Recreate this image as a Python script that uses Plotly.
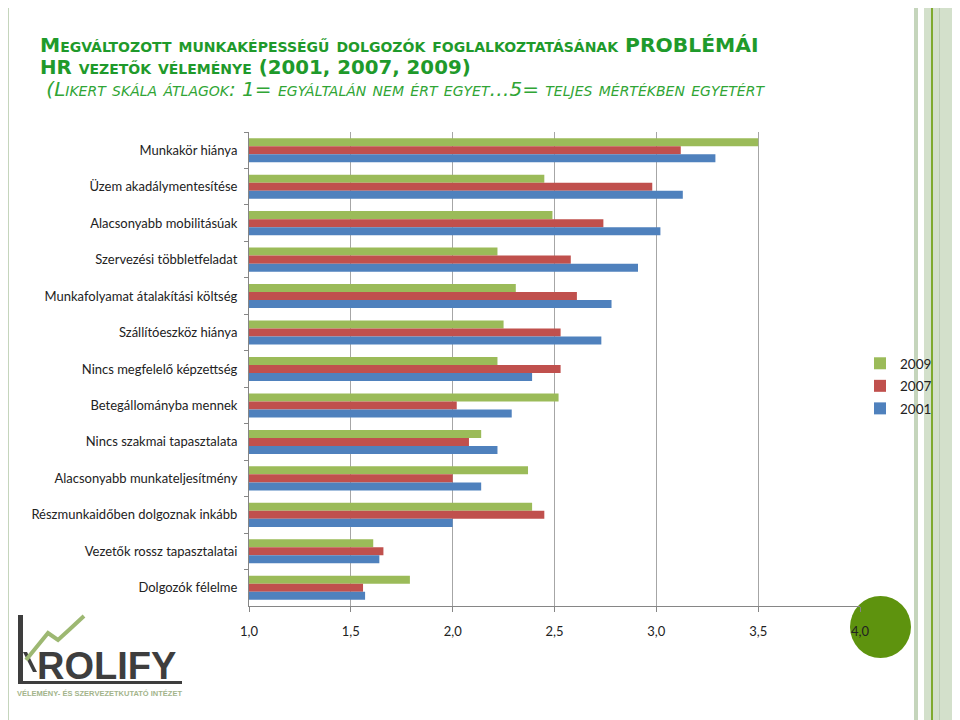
import plotly.graph_objects as go

categories = [
    "Munkakör hiánya",
    "Üzem akadálymentesítése",
    "Alacsonyabb mobilitásúak",
    "Szervezési többletfeladat",
    "Munkafolyamat átalakítási költség",
    "Szállítóeszköz hiánya",
    "Nincs megfelelő képzettség",
    "Betegállományba mennek",
    "Nincs szakmai tapasztalata",
    "Alacsonyabb munkateljesítmény",
    "Részmunkaidőben dolgoznak inkább",
    "Vezetők rossz tapasztalatai",
    "Dolgozók félelme",
]
values_2009 = [3.50, 2.45, 2.49, 2.22, 2.31, 2.25, 2.22, 2.52, 2.14, 2.37, 2.39, 1.61, 1.79]
values_2007 = [3.12, 2.98, 2.74, 2.58, 2.61, 2.53, 2.53, 2.02, 2.08, 2.00, 2.45, 1.66, 1.56]
values_2001 = [3.29, 3.13, 3.02, 2.91, 2.78, 2.73, 2.39, 2.29, 2.22, 2.14, 2.00, 1.64, 1.57]
x_ticks = [1.0, 1.5, 2.0, 2.5, 3.0, 3.5, 4.0]

SERIES = [
    ("2009", values_2009, "#9BBB59"),
    ("2007", values_2007, "#C0504D"),
    ("2001", values_2001, "#4F81BD"),
]

# the page body adds an 8px margin, so the figure is 8px smaller and every
# page-pixel position below is shifted by OFF
OFF = 8
W, H = 960 - OFF, 720 - OFF
L, R, T, B = 249 - OFF, 100, 132 - OFF, 114
PW, PH = W - L - R, H - T - B


def px(x):
    return (x - OFF - L) / PW


def py(y):
    return (H - B - (y - OFF)) / PH


GREEN = "#1F9A2B"
STRIPE = "#C5D5BC"

fig = go.Figure()
for name, vals, color in SERIES:
    fig.add_trace(
        go.Bar(
            y=categories, x=vals, name=name, orientation="h", legendgroup=name,
            marker_color=color, marker_line_width=0, base=0,
        )
    )

fig.update_layout(
    width=W, height=H,
    margin=dict(l=L, r=R, t=T, b=B, autoexpand=False),
    paper_bgcolor="white", plot_bgcolor="white",
    barmode="group", bargap=0.34, bargroupgap=0,
    separators=",.",
    font=dict(family="Lato, Open Sans, sans-serif", size=13, color="#222222"),
    showlegend=True,
    legend=dict(
        xref="container", yref="container", x=(860 - OFF) / W, y=1 - (348 - OFF) / H,
        xanchor="left", yanchor="top", font=dict(size=13.5, color="#222222"),
        itemwidth=30, traceorder="grouped", tracegroupgap=2,
        bgcolor="rgba(0,0,0,0)",
    ),
)
fig.update_xaxes(
    range=[1, 4], tickvals=x_ticks, tickformat=".1f",
    showgrid=True, gridcolor="#A6A6A6", gridwidth=1,
    showline=True, linecolor="#868686", linewidth=1,
    ticks="outside", ticklen=5, tickcolor="#868686",
    tickfont=dict(size=13, color="#222222"), ticklabelstandoff=8,
    zeroline=False, fixedrange=True,
)
fig.update_yaxes(
    autorange="reversed", showline=True, linecolor="#868686", linewidth=1,
    ticks="outside", ticklen=4, tickcolor="#868686", tickson="boundaries",
    tickfont=dict(size=13, color="#222222"), ticklabelstandoff=8,
    showgrid=False,
)

# page decoration: stripes at the left and right edges
shapes = [
    dict(type="rect", x0=px(2), x1=px(4), y0=py(0), y1=py(720), fillcolor=STRIPE),
    dict(type="rect", x0=px(7), x1=px(9), y0=py(0), y1=py(720), fillcolor=STRIPE),
    dict(type="rect", x0=px(914), x1=px(918), y0=py(0), y1=py(720), fillcolor=STRIPE),
    dict(type="rect", x0=px(924), x1=px(960), y0=py(0), y1=py(720), fillcolor="#D3E0CB"),
    dict(type="rect", x0=px(931), x1=px(933), y0=py(0), y1=py(720), fillcolor="#7FAA2E"),
    dict(type="rect", x0=px(939), x1=px(940), y0=py(0), y1=py(720), fillcolor="#BCCDB2"),
]
for s in shapes:
    s.update(xref="paper", yref="paper", line_width=0, layer="below")

# green dot at the end of the axis
shapes.append(dict(
    type="circle", xref="paper", yref="paper",
    x0=px(850), x1=px(911), y0=py(596), y1=py(658),
    fillcolor="#5E930E", line_width=0, layer="below",
))

# logo: L-bar, K leg, rising line
LOGO_DARK = "#3E3E3E"
shapes += [
    dict(type="rect", x0=px(18), x1=px(23), y0=py(615), y1=py(684), fillcolor=LOGO_DARK, line_width=0),
    dict(type="rect", x0=px(18), x1=px(182), y0=py(681), y1=py(684), fillcolor=LOGO_DARK, line_width=0),
    dict(type="path", path="M {} {} L {} {} L {} {} L {} {} Z".format(
        px(23), py(652), px(27), py(652), px(37), py(672), px(33), py(672)),
        fillcolor=LOGO_DARK, line_width=0),
    dict(type="path", path="M {} {} L {} {} L {} {} L {} {} L {} {}".format(
        px(26), py(660), px(48), py(633), px(58), py(640), px(70), py(629), px(84), py(616)),
        line=dict(color="#9DB872", width=4)),
]
for s in shapes[-4:]:
    s.update(xref="paper", yref="paper")
fig.update_layout(shapes=shapes)

line1 = "Megváltozott munkaképességű dolgozók foglalkoztatásának PROBLÉMÁI"
line2 = "HR vezetők véleménye (2001, 2007, 2009)"
line3 = "(Likert skála átlagok: 1= egyáltalán nem ért egyet…5= teljes mértékben egyetért"

# one three-line title block (base size sets the line spacing)
title_text = (
    f'<b><span style="font-size:20.3px">{line1}</span></b><br>'
    f'<b><span style="font-size:19.8px">{line2}</span></b><br>'
    f'<i><span style="font-size:20px;color:#30A535">\u00a0{line3}</span></i>'
)

annotations = [
    dict(text=title_text, x=px(38), y=py(67), align="left",
         font=dict(family="DejaVu Sans", size=16.8, color=GREEN, variant="small-caps")),
    dict(text="ROLIFY", x=px(35), y=py(666),
         font=dict(family="Liberation Sans", size=38, color=LOGO_DARK, weight="bold")),
    dict(text="VÉLEMÉNY- ÉS SZERVEZETKUTATÓ INTÉZET", x=px(15), y=py(693),
         font=dict(family="Liberation Sans", size=7.5, color="#A3B48B", weight="bold")),
]
for a in annotations:
    a.update(xref="paper", yref="paper", xanchor="left", yanchor="middle", showarrow=False)
fig.update_layout(annotations=annotations)

fig.write_html("out.html")
